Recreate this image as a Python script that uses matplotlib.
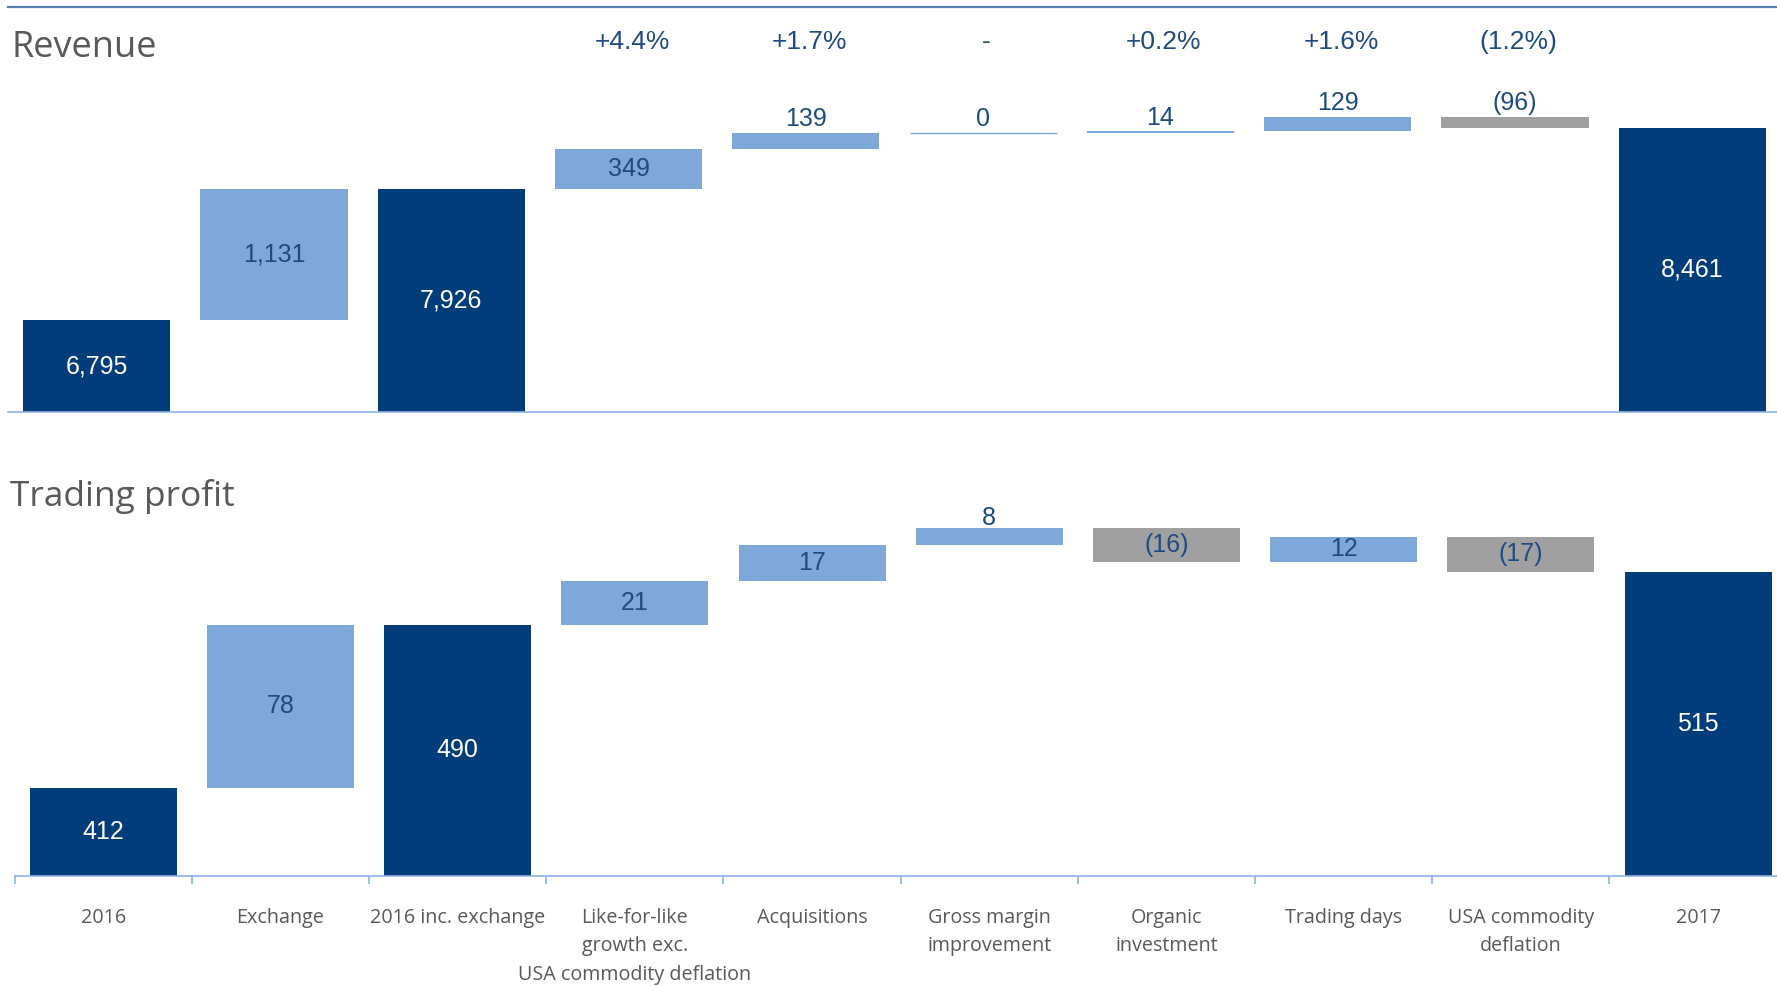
import matplotlib.pyplot as plt
import matplotlib.transforms as mtransforms

# categories shared by both waterfalls
categories = ["2016", "Exchange", "2016 inc. exchange",
              "Like-for-like\ngrowth exc.\nUSA commodity deflation",
              "Acquisitions", "Gross margin\nimprovement", "Organic\ninvestment",
              "Trading days", "USA commodity\ndeflation", "2017"]
kinds = ["total", "change", "total", "change", "change",
         "change", "change", "change", "change", "total"]

revenue = [6795, 1131, 7926, 349, 139, 0, 14, 129, -96, 8461]
revenue_growth = ["", "", "", "+4.4%", "+1.7%", "-", "+0.2%", "+1.6%", "(1.2%)", ""]
profit = [412, 78, 490, 21, 17, 8, -16, 12, -17, 515]

DARK = "#023d7b"
LIGHT = "#7fa7d8"
GREY = "#a0a0a0"
NAVY = "#1f4a82"
TEXTGREY = "#595959"
AXISBLUE = "#8fb4e3"

W, H = 1777, 986
fig = plt.figure(figsize=(W / 100, H / 100), dpi=100)
plt.rcParams['font.family'] = ['Liberation Sans', 'DejaVu Sans']


def px(x0, y_top, width, y_bottom):
    # pixel box -> figure fraction rect
    return [x0 / W, 1 - y_bottom / H, width / W, (y_bottom - y_top) / H]


def waterfall(ax, values, floor, top, above_gap):
    ax.set_xlim(-0.5, len(values) - 0.5)
    ax.set_ylim(floor, top)
    unit_px = ax.bbox.height / (top - floor)
    running = 0
    for i, (v, k) in enumerate(zip(values, kinds)):
        if k == "total":
            b, h, c = floor, v - floor, DARK
            running = v
        else:
            b, h = running, v
            c = LIGHT if v >= 0 else GREY
            running += v
        ax.bar(i, h, bottom=b, width=0.83, color=c,
               edgecolor=c, linewidth=1.0 if v == 0 else 0, zorder=2)
        label = f"{abs(v):,}" if v >= 0 else f"({abs(v):,})"
        if abs(h) * unit_px < 20:
            ax.annotate(label, (i, max(b, b + h)), xytext=(0, above_gap),
                        textcoords="offset points", ha="center", va="baseline",
                        fontsize=18, color=NAVY, zorder=3)
        else:
            ax.text(i, b + h / 2, label, ha="center", va="center", fontsize=18,
                    color="white" if c == DARK else NAVY, zorder=3)
    for s in ["left", "right", "top"]:
        ax.spines[s].set_visible(False)
    ax.spines["bottom"].set_color(AXISBLUE)
    ax.spines["bottom"].set_linewidth(1.2)
    ax.set_yticks([])


# Revenue panel
ax1 = fig.add_axes(px(8, 7, 1773, 412))
waterfall(ax1, revenue, 6000, 9505, 5)
ax1.spines["top"].set_visible(True)
ax1.spines["top"].set_color("#5b80b2")
ax1.spines["top"].set_linewidth(1.6)
ax1.set_xticks([])
trans = mtransforms.blended_transform_factory(ax1.transData, fig.transFigure)
for i, g in enumerate(revenue_growth):
    if g:
        ax1.text(i + 0.02, 1 - 42 / H, g, transform=trans, ha="center", va="center",
                 fontsize=19, color=NAVY)

# Trading profit panel
ax2 = fig.add_axes(px(14.7, 450, 1772, 876))
waterfall(ax2, profit, 370, 573.3, 2)
ax2.set_xticks(range(len(categories)))
ax2.set_xticklabels(categories, fontsize=14.2, color=TEXTGREY,
                    family=['Open Sans', 'DejaVu Sans'], linespacing=1.56)
ax2.set_xticks([x - 0.5 for x in range(len(categories) + 1)], minor=True)
ax2.tick_params(axis="x", which="major", length=0, pad=23)
ax2.tick_params(axis="x", which="minor", length=6, width=1.2, color=AXISBLUE)

fig.text(0.0065, 1 - 57 / H, "Revenue", fontsize=26, color=TEXTGREY,
         family=['Open Sans', 'DejaVu Sans'], va="baseline")
fig.text(0.0055, 1 - 506 / H, "Trading profit", fontsize=25.5, color=TEXTGREY,
         family=['Open Sans', 'DejaVu Sans'], va="baseline")

fig.savefig("out.png", dpi=100)
